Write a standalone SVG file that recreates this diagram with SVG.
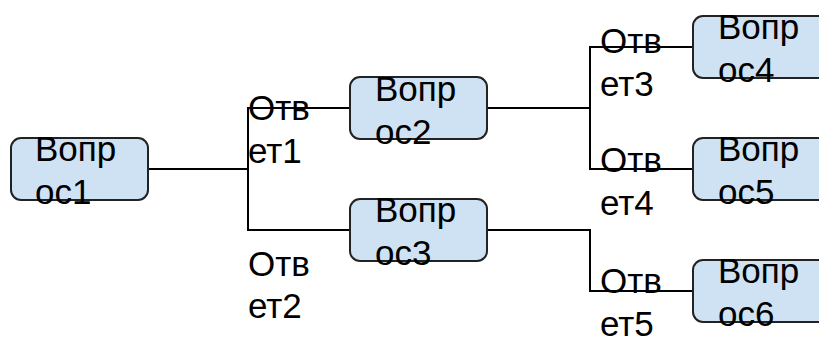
<svg xmlns="http://www.w3.org/2000/svg" width="819" height="342" viewBox="0 0 819 342">
  <style>
    .box { fill: #cfe2f3; stroke: #222; stroke-width: 2; }
    .edge { fill: none; stroke: #000; stroke-width: 2; }
    text { font-family: "Liberation Sans", Arial, sans-serif; font-size: 35px; fill: #000; }
  </style>
  <rect width="819" height="342" fill="#fff"/>

  <!-- connectors -->
  <g id="connectors">
    <path class="edge" d="M148 169 H248 V108 H350"/>
    <path class="edge" d="M248 169 V230 H350"/>
    <path class="edge" d="M488 108 H590 V47 H693"/>
    <path class="edge" d="M590 108 V169 H693"/>
    <path class="edge" d="M488 230 H590 V291 H693"/>
  </g>

  <!-- answer labels -->
  <g id="labels">
    <text x="248" y="120">Отв<tspan x="248" y="163">ет1</tspan></text>
    <text x="248" y="276">Отв<tspan x="248" y="318">ет2</tspan></text>
    <text x="600" y="53">Отв<tspan x="600" y="96">ет3</tspan></text>
    <text x="600" y="172">Отв<tspan x="600" y="215">ет4</tspan></text>
    <text x="600" y="293">Отв<tspan x="600" y="336">ет5</tspan></text>
  </g>

  <!-- question nodes -->
  <g id="q1">
    <rect class="box" x="11" y="138" width="137" height="62" rx="10"/>
    <text x="35" y="161">Вопр<tspan x="35" y="204">ос1</tspan></text>
  </g>
  <g id="q2">
    <rect class="box" x="350" y="77" width="137" height="62" rx="10"/>
    <text x="375" y="101">Вопр<tspan x="375" y="144">ос2</tspan></text>
  </g>
  <g id="q3">
    <rect class="box" x="350" y="199" width="137" height="62" rx="10"/>
    <text x="375" y="222">Вопр<tspan x="375" y="265">ос3</tspan></text>
  </g>
  <g id="q4">
    <rect class="box" x="693" y="16" width="137" height="62" rx="10"/>
    <text x="718" y="39">Вопр<tspan x="718" y="82">ос4</tspan></text>
  </g>
  <g id="q5">
    <rect class="box" x="693" y="138" width="137" height="62" rx="10"/>
    <text x="718" y="161">Вопр<tspan x="718" y="204">ос5</tspan></text>
  </g>
  <g id="q6">
    <rect class="box" x="693" y="260" width="137" height="62" rx="10"/>
    <text x="718" y="283">Вопр<tspan x="718" y="326">ос6</tspan></text>
  </g>
</svg>
